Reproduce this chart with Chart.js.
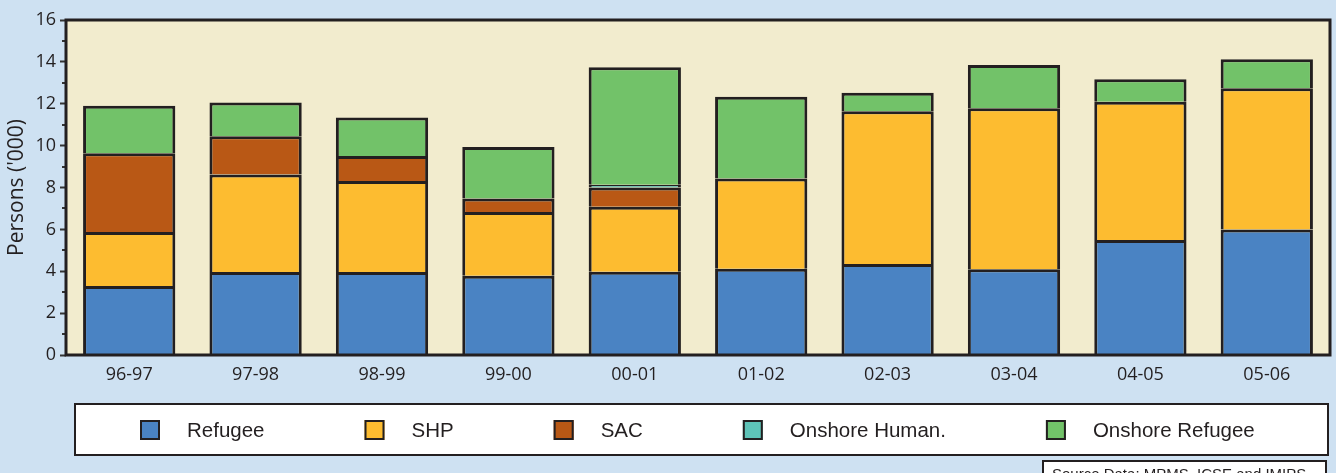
<!DOCTYPE html>
<html>
<head>
<meta charset="utf-8">
<script src="https://cdn.jsdelivr.net/npm/chart.js@4/dist/chart.umd.min.js"></script>
<style>
  html, body { margin: 0; padding: 0; background: #CEE1F2; }
  canvas { display: block; }
</style>
</head>
<body>
<canvas id="c" width="1336" height="473"></canvas>
<script>
const categories = ['96-97', '97-98', '98-99', '99-00', '00-01', '01-02', '02-03', '03-04', '04-05', '05-06'];
const refugee = [3.30, 3.97, 3.97, 3.78, 3.98, 4.12, 4.35, 4.09, 5.49, 6.00];
const shp = [2.57, 4.65, 4.34, 3.05, 3.10, 4.31, 7.29, 7.70, 6.60, 6.74];
const sac = [3.77, 1.83, 1.19, 0.65, 0.92, null, null, null, null, null];
const onshoreHuman = [null, null, null, null, 0.13, null, null, null, null, null];
const onshoreRefugee = [2.26, 1.61, 1.84, 2.45, 5.61, 3.91, 0.88, 2.06, 1.08, 1.38];
const seriesLabels = ['Refugee', 'SHP', 'SAC', 'Onshore Human.', 'Onshore Refugee'];
const yTickMax = 16;
const yTickStep = 2;
const yTitle = "Persons ('000)";
const sourceText = 'Source Data: MPMS, ICSE and IMIPS';

const colors = ['#4A83C3', '#FDBC30', '#B95815', '#5EC4B8', '#72C269'];
const ink = '#231F20';

const bgPlugin = {
  id: 'bg',
  beforeDraw(chart) {
    const ctx = chart.ctx, a = chart.chartArea;
    ctx.save();
    ctx.fillStyle = '#CEE1F2';
    ctx.fillRect(0, 0, chart.width, chart.height);
    ctx.fillStyle = '#F2ECCE';
    ctx.fillRect(a.left, a.top, a.right - a.left, a.bottom - a.top);
    ctx.restore();
  }
};

const framePlugin = {
  id: 'frame',
  afterDraw(chart) {
    const ctx = chart.ctx, a = chart.chartArea;
    const y = chart.scales.y;
    ctx.save();
    // minor ticks at odd values
    ctx.strokeStyle = '#333';
    ctx.lineWidth = 2;
    for (let v = y.min + yTickStep / 2; v < y.max; v += yTickStep) {
      const py = Math.round(y.getPixelForValue(v));
      ctx.beginPath();
      ctx.moveTo(a.left - 4, py);
      ctx.lineTo(a.left, py);
      ctx.stroke();
    }
    // frame
    ctx.strokeStyle = ink;
    ctx.lineWidth = 3;
    ctx.strokeRect(a.left, a.top, a.right - a.left, a.bottom - a.top);

    // legend box
    const lx = 75, ly = 404, lw = 1253, lh = 51;
    ctx.fillStyle = '#FFFFFF';
    ctx.fillRect(lx, ly, lw, lh);
    ctx.lineWidth = 2;
    ctx.strokeStyle = ink;
    ctx.strokeRect(lx, ly, lw, lh);
    ctx.font = '20.5px "Liberation Sans", Arial, sans-serif';
    ctx.textBaseline = 'middle';
    ctx.textAlign = 'left';
    let x = 140;
    const cy = 430;
    chart.data.datasets.forEach(ds => {
      ctx.fillStyle = ds.backgroundColor;
      ctx.fillRect(x, cy - 10, 20, 20);
      ctx.lineWidth = 2;
      ctx.strokeStyle = ink;
      ctx.strokeRect(x + 1, cy - 9, 18, 18);
      ctx.fillStyle = ink;
      ctx.fillText(ds.label, x + 47, cy + 1);
      x += 47 + ctx.measureText(ds.label).width + 100;
    });

    // source box
    ctx.fillStyle = '#FFFFFF';
    ctx.fillRect(1043, 461, 283, 20);
    ctx.strokeStyle = ink;
    ctx.lineWidth = 2;
    ctx.strokeRect(1043, 461, 283, 20);
    ctx.fillStyle = ink;
    ctx.font = '15px "Liberation Sans", Arial, sans-serif';
    ctx.textBaseline = 'top';
    ctx.fillText(sourceText, 1052, 467);
    ctx.restore();
  }
};

const series = [refugee, shp, sac, onshoreHuman, onshoreRefugee];
const datasets = series.map((d, i) => ({
  label: seriesLabels[i],
  data: d,
  backgroundColor: colors[i],
  borderColor: ink,
  borderWidth: 3,
  borderSkipped: 'start',
  categoryPercentage: 1.0,
  barPercentage: 0.73
}));

new Chart(document.getElementById('c'), {
  type: 'bar',
  data: { labels: categories, datasets },
  options: {
    responsive: false,
    animation: false,
    devicePixelRatio: 1,
    layout: { padding: { top: 20, right: 6, bottom: 82, left: 0 } },
    plugins: { legend: { display: false }, tooltip: { enabled: false }, title: { display: false } },
    scales: {
      x: {
        stacked: true,
        grid: { display: false, drawTicks: false },
        border: { display: false },
        ticks: { color: ink, font: { family: '"Open Sans", sans-serif', size: 18 }, padding: 9, maxRotation: 0 },
        afterFit(s) { s.height = 36; }
      },
      y: {
        stacked: true,
        min: 0,
        max: yTickMax,
        ticks: { stepSize: yTickStep, color: ink, font: { family: '"Open Sans", sans-serif', size: 18 }, padding: 4 },
        grid: { drawOnChartArea: false, drawTicks: true, tickLength: 6, tickColor: '#333', tickWidth: 2 },
        border: { display: false },
        title: { display: true, text: yTitle, color: ink, font: { family: '"Open Sans", sans-serif', size: 21 }, padding: { top: 4, bottom: 0 } },
        afterFit(s) { s.width = 66; }
      }
    }
  },
  plugins: [bgPlugin, framePlugin]
});
</script>
</body>
</html>
